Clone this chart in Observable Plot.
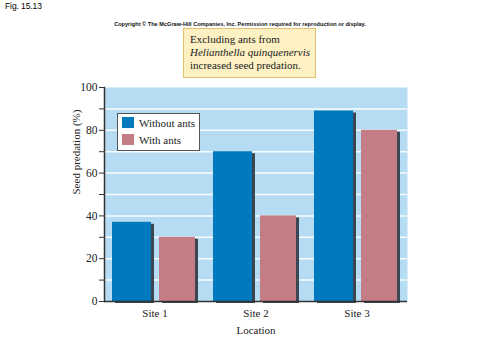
<!DOCTYPE html>
<html>
<head>
<meta charset="utf-8">
<script src="https://cdn.jsdelivr.net/npm/d3@7"></script>
<script src="https://cdn.jsdelivr.net/npm/@observablehq/plot@0.6"></script>
<style>
  html, body { margin: 0; padding: 0; background: #fff; }
  #wrap { position: relative; width: 480px; height: 360px; overflow: hidden; }
  #wrap svg { position: absolute; left: 0; top: 0; }
  .fig { position: absolute; left: 5px; top: 1px; font: 8.5px "Liberation Sans", Arial, sans-serif; color: #000; letter-spacing: -0.1px; }
  .copy { position: absolute; left: 0; width: 480px; top: 21px; text-align: center; font: bold 5.6px "Liberation Sans", Arial, sans-serif; color: #111; white-space: nowrap; }
  .note { position: absolute; left: 183px; top: 28px; width: 125px; height: 44px; background: #fdf0c2; border: 1px solid #e3c070; box-sizing: content-box; font: 11px/13px "Liberation Serif", "Times New Roman", serif; color: #222; padding: 0 0 0 6px; }
  .note div { white-space: nowrap; }
  .legend { position: absolute; left: 117px; top: 113px; width: 81px; height: 36px; background: #fff; border: 1px solid #555; font: 11px "Liberation Serif", "Times New Roman", serif; color: #222; }
  .legend .row { position: absolute; left: 4px; height: 12px; line-height: 12px; white-space: nowrap; }
  .legend .sw { display: inline-block; width: 12px; height: 11px; vertical-align: top; margin-right: 5px; }
</style>
</head>
<body>
<div id="wrap"></div>
<script>
const sites = ["Site 1", "Site 2", "Site 3"];
const seriesNames = ["Without ants", "With ants"];
const withoutAnts = [37, 70, 89];
const withAnts = [30, 40, 80];
const yTicks = [0, 20, 40, 60, 80, 100];
const yMinorTicks = [10, 30, 50, 70, 90];
const gridValues = [10, 20, 30, 40, 50, 60, 70, 80, 90];
const colors = ["#0079be", "#c47d84"];
const shadow = "#3b4650";

const rowsWithout = sites.map((s, i) => ({site: s, value: withoutAnts[i]}));
const rowsWith = sites.map((s, i) => ({site: s, value: withAnts[i]}));

const serif = "Liberation Serif, Times New Roman, serif";

const plot = Plot.plot({
  width: 480,
  height: 360,
  marginLeft: 104,
  marginRight: 73,
  marginTop: 87,
  marginBottom: 59,
  style: {fontFamily: serif, fontSize: "11px", color: "#222", background: "transparent"},
  x: {domain: sites, padding: 0, label: null},
  y: {domain: [0, 100], label: null},
  marks: [
    Plot.frame({fill: "#b5dcf2", stroke: null}),
    Plot.gridY(gridValues, {stroke: "#ffffff", strokeOpacity: 0.9, strokeWidth: 1.5}),
    // shadows
    Plot.barY(rowsWithout, {x: "site", y: "value", fill: shadow, insetLeft: 8, insetRight: 54, dx: 3, dy: 2}),
    Plot.barY(rowsWith, {x: "site", y: "value", fill: shadow, insetLeft: 55, insetRight: 10, dx: 3, dy: 2}),
    // bars
    Plot.barY(rowsWithout, {x: "site", y: "value", fill: colors[0], insetLeft: 8, insetRight: 54}),
    Plot.barY(rowsWith, {x: "site", y: "value", fill: colors[1], insetLeft: 55, insetRight: 10}),
    Plot.ruleY([0], {stroke: "#333", strokeWidth: 1.5}),
    Plot.frame({anchor: "left", stroke: "#333", strokeWidth: 1.5}),
    Plot.axisY(yTicks, {tickSize: 5, tickPadding: 2, fontSize: 11.5, label: null, stroke: "#333"}),
    Plot.axisY(yMinorTicks, {tickSize: 5, tickFormat: () => "", label: null, stroke: "#333"}),
    Plot.axisX({tickSize: 0, tickPadding: 8, fontSize: 11, label: null}),
    Plot.text(["Seed predation (%)"], {frameAnchor: "left", rotate: -90, dx: -28, fontSize: 11, fill: "#222"}),
    Plot.text(["Location"], {frameAnchor: "bottom", dy: 32, fontSize: 11, fill: "#222"})
  ]
});

const wrap = document.getElementById("wrap");
wrap.appendChild(plot);

const fig = document.createElement("div");
fig.className = "fig";
fig.textContent = "Fig. 15.13";
wrap.appendChild(fig);

const copy = document.createElement("div");
copy.className = "copy";
copy.textContent = "Copyright \u00A9 The McGraw-Hill Companies, Inc. Permission required for reproduction or display.";
wrap.appendChild(copy);

const note = document.createElement("div");
note.className = "note";
note.innerHTML = "<div>Excluding ants from</div><div><i>Helianthella quinquenervis</i></div><div>increased seed predation.</div>";
note.style.paddingTop = "4px";
wrap.appendChild(note);

const legend = document.createElement("div");
legend.className = "legend";
seriesNames.forEach((name, i) => {
  const row = document.createElement("div");
  row.className = "row";
  row.style.top = (3 + i * 17) + "px";
  const sw = document.createElement("span");
  sw.className = "sw";
  sw.style.background = colors[i];
  row.appendChild(sw);
  row.appendChild(document.createTextNode(name));
  legend.appendChild(row);
});
wrap.appendChild(legend);
</script>
</body>
</html>
